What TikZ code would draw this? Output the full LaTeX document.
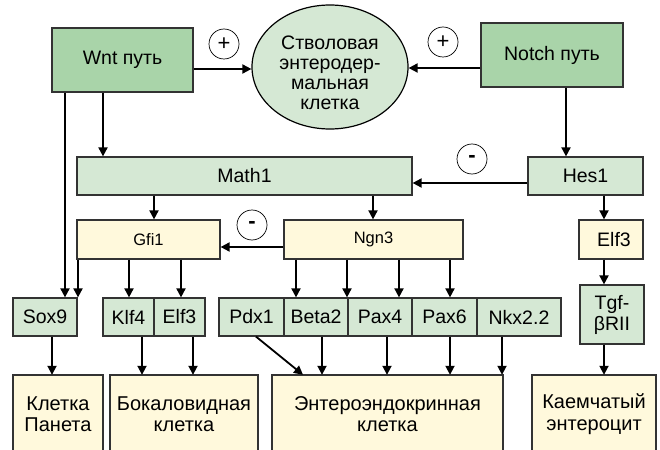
\documentclass[tikz,border=0pt]{standalone}
\usepackage{fontspec}
\setmainfont{Liberation Sans}
\usetikzlibrary{arrows.meta,shapes.geometric}
\definecolor{dgreen}{HTML}{A9D4A9}
\definecolor{lgreen}{HTML}{D5E8D4}
\definecolor{lyellow}{HTML}{FFF9DC}
\definecolor{edge}{HTML}{333333}
\begin{document}
\begin{tikzpicture}[x=1pt,y=-1pt,
  box/.style={draw=edge,line width=1.2pt,inner sep=0pt,align=center,font=\fontsize{19.5}{21}\selectfont},
  dbox/.style={box,fill=dgreen},
  gbox/.style={box,fill=lgreen},
  ybox/.style={box,fill=lyellow},
  sbox/.style={ybox,font=\fontsize{16.5}{18}\selectfont},
  txt/.style={inner sep=0pt,align=center,font=\fontsize{20}{21.5}\selectfont},
  sign/.style={circle,draw=black,line width=0.7pt,minimum size=30pt,inner sep=0pt,font=\fontsize{22}{22}\selectfont},
  arr/.style={line width=1.8pt,-{Triangle[length=9pt,width=9pt]}}]
\useasboundingbox (0,0) rectangle (660,449);
\clip (0,0) rectangle (660,449);
% top
\node[dbox,minimum width=141pt,minimum height=64pt] (wnt) at (122.5,60) {Wnt путь};
\node[dbox,minimum width=142pt,minimum height=64pt] (notch) at (552,55) {Notch путь};
\node[ellipse,draw=black,line width=1.2pt,fill=lgreen,minimum width=156pt,minimum height=124pt,inner sep=0pt] (stem) at (330,67) {};
\node[inner sep=0pt,align=center,font=\fontsize{19.5}{20}\selectfont] (stemtxt) at (330,73) {Стволовая\\энтеродер-\\мальная\\клетка};
\node[sign] (p1) at (224,44) {+};
\node[sign] (p2) at (443,42) {+};
% second row
\node[gbox,minimum width=335pt,minimum height=38pt] (math) at (244.5,176) {Math1};
\node[gbox,minimum width=115pt,minimum height=38pt] (hes) at (585.5,176) {Hes1};
\node[sign] (m1) at (472,159) {\textbf{-}};
% third row
\node[sbox,minimum width=143pt,minimum height=39pt] (gfi) at (148.5,239.5) {Gfi1};
\node[sbox,minimum width=179pt,minimum height=39pt] (ngn) at (373.5,239.5) {Ngn3};
\node[ybox,minimum width=64pt,minimum height=39pt] (elfr) at (611,239.5) {\hspace{6pt}Elf3};
\node[sign] (m2) at (252,225) {\textbf{-}};
% fourth row
\node[gbox,minimum width=64pt,minimum height=38pt] (sox) at (45,317) {Sox9};
\node[gbox,minimum width=51pt,minimum height=38pt] (klf) at (128.5,317) {Klf4};
\node[gbox,minimum width=51pt,minimum height=38pt] (elf) at (179.5,317) {Elf3};
\node[gbox,minimum width=65pt,minimum height=38pt] (pdx) at (251.5,317) {Pdx1};
\node[gbox,minimum width=64pt,minimum height=38pt] (beta) at (316,317) {Beta2};
\node[gbox,minimum width=64pt,minimum height=38pt] (pax4) at (380,317) {Pax4};
\node[gbox,minimum width=65pt,minimum height=38pt] (pax6) at (444.5,317) {Pax6};
\node[gbox,minimum width=84pt,minimum height=38pt] (nkx) at (519,317) {Nkx2.2};
\node[gbox,minimum width=64pt,minimum height=59pt,font=\fontsize{19.5}{21}\selectfont] (tgf) at (612,314.5) {Tgf-\\βRII};
% bottom
\draw[draw=edge,line width=1.2pt,fill=lyellow] (13,375) rectangle (103,460);
\draw[draw=edge,line width=1.2pt,fill=lyellow] (110,375) rectangle (258,460);
\draw[draw=edge,line width=1.2pt,fill=lyellow] (272,375) rectangle (503,460);
\draw[draw=edge,line width=1.2pt,fill=lyellow] (532,375) rectangle (656,460);
\node[txt,minimum width=90pt,minimum height=78pt] (paneth) at (58,414) {Клетка\\Панета};
\node[txt,minimum width=148pt,minimum height=78pt] (goblet) at (184,414) {Бокаловидная\\клетка};
\node[txt,minimum width=231pt,minimum height=78pt] (entero) at (387.5,414) {Энтероэндокринная\\клетка};
\node[txt,minimum width=124pt,minimum height=78pt] (kaem) at (594,414) {Каемчатый\\энтероцит};
% arrows
\draw[arr] (wnt.east |- 0,69) -- (stem.west |- 0,69);
\draw[arr] (notch.west |- 0,68) -- (stem.east |- 0,68);
\draw[arr] (wnt.south -| 65,0) -- (sox.north -| 65,0);
\draw[arr] (wnt.south -| 103,0) -- (math.north -| 103,0);
\draw[arr] (notch.south -| 566,0) -- (hes.north -| 566,0);
\draw[arr] (hes.west |- 0,183) -- (math.east |- 0,183);
\draw[arr] (math.south -| 154,0) -- (gfi.north -| 154,0);
\draw[arr] (math.south -| 373,0) -- (ngn.north -| 373,0);
\draw[arr] (ngn.west |- 0,247) -- (gfi.east |- 0,247);
\draw[arr] (hes.south -| 604,0) -- (elfr.north -| 604,0);
\draw[arr] (elfr.south -| 604,0) -- (tgf.north -| 604,0);
\draw[arr] (gfi.south -| 78,0) -- (sox.north -| 78,0);
\draw[arr] (gfi.south -| 129,0) -- (klf.north -| 129,0);
\draw[arr] (gfi.south -| 181,0) -- (elf.north -| 181,0);
\draw[arr] (ngn.south -| 296,0) -- (beta.north -| 296,0);
\draw[arr] (ngn.south -| 347,0) -- (beta.north -| 347,0);
\draw[arr] (ngn.south -| 399,0) -- (pax4.north -| 399,0);
\draw[arr] (ngn.south -| 450,0) -- (pax6.north -| 450,0);
\draw[arr] (sox.south -| 52,0) -- (paneth.north -| 52,0);
\draw[arr] (klf.south -| 142,0) -- (goblet.north -| 142,0);
\draw[arr] (elf.south -| 193,0) -- (goblet.north -| 193,0);
\draw[arr] (pdx.south -| 256,0) -- (entero.north -| 303,0);
\draw[arr] (beta.south -| 322,0) -- (entero.north -| 322,0);
\draw[arr] (pax4.south -| 387,0) -- (entero.north -| 387,0);
\draw[arr] (pax6.south -| 450,0) -- (entero.north -| 450,0);
\draw[arr] (nkx.south -| 502,0) -- (entero.north -| 502,0);
\draw[arr] (tgf.south -| 604,0) -- (kaem.north -| 604,0);
\end{tikzpicture}
\end{document}
